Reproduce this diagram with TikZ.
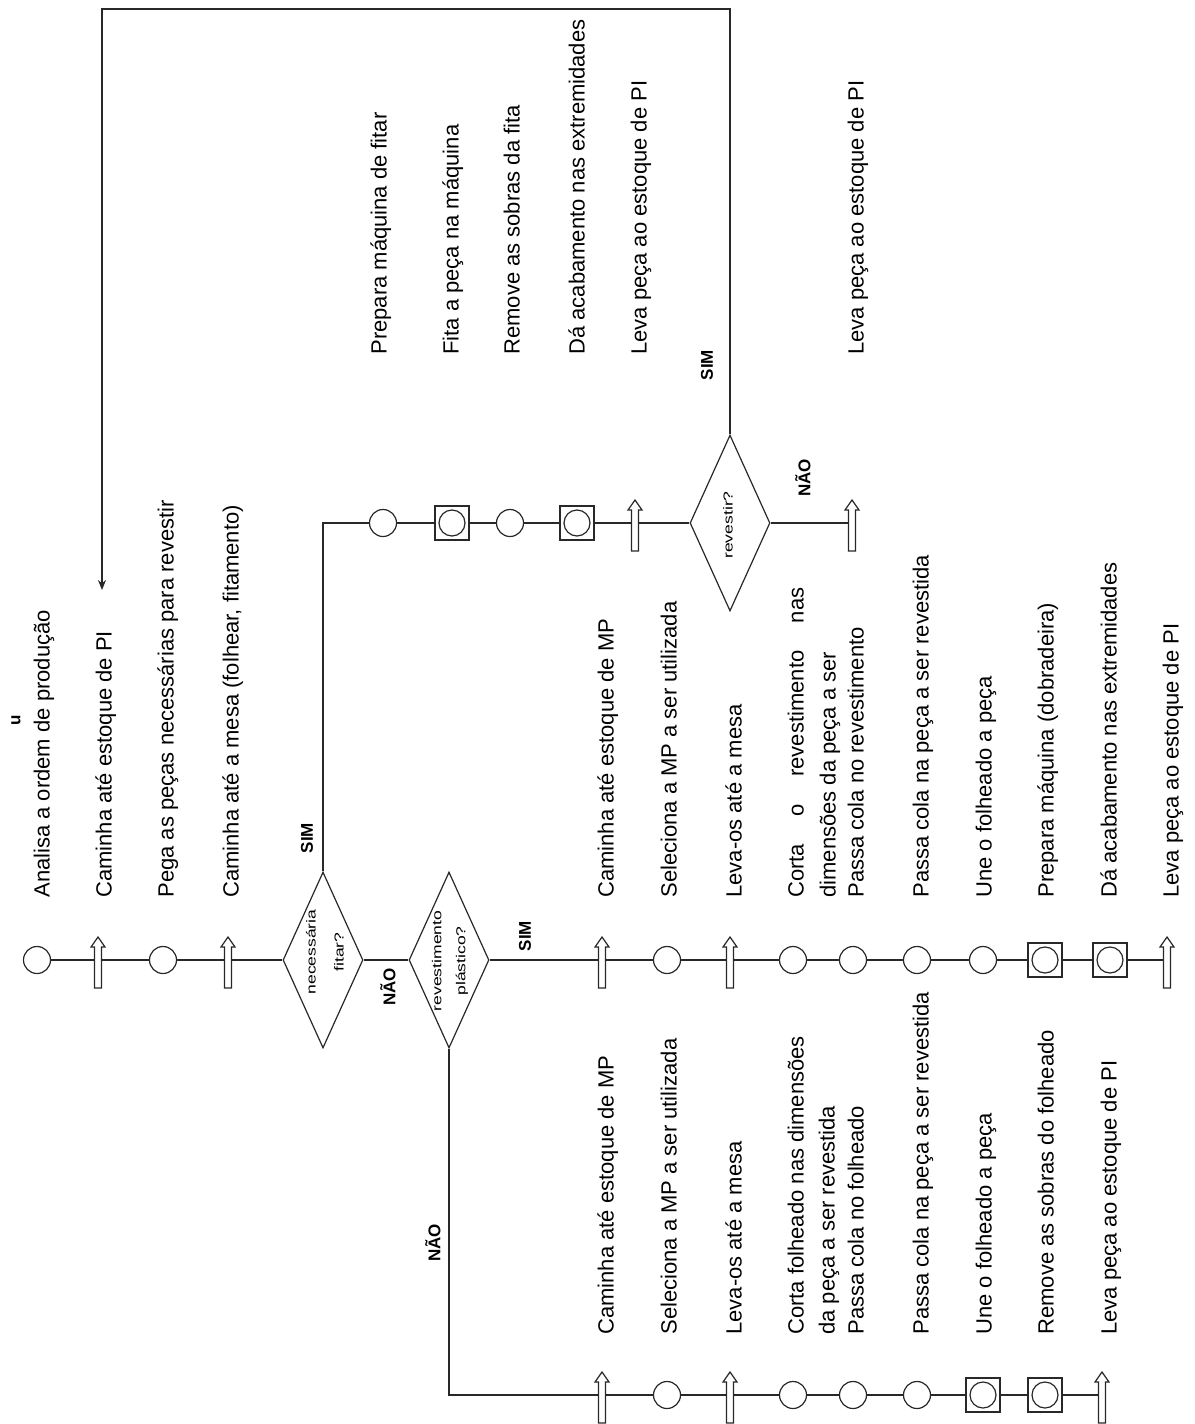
\documentclass[tikz,border=0pt]{standalone}
\usepackage{fontspec}
\setmainfont{Liberation Sans}
\usepackage{graphicx}
\usetikzlibrary{shapes.geometric,arrows.meta}
\definecolor{ink}{RGB}{40,40,40}
\newcommand\widetxt[1]{\scalebox{1.35}[1]{#1}}
\begin{document}
\begin{tikzpicture}[x=0.5pt,y=-0.5pt,
  op/.style={circle,draw=ink,line width=0.6pt,fill=white,minimum size=13.5pt,inner sep=0pt},
  opbox/.style={rectangle,draw=ink,line width=0.6pt,fill=white,minimum size=17pt,inner sep=0pt,
     path picture={\draw[ink,line width=0.6pt] (path picture bounding box.center) circle (6.5pt);}},
  mv/.style={rectangle,inner sep=0pt,minimum width=3.5pt,minimum height=5pt},
  dec/.style={diamond,draw=ink,line width=0.6pt,minimum width=40pt,minimum height=88pt,inner sep=0pt},
  txt/.style={rotate=90,anchor=west,inner sep=0pt,text height=9pt,text depth=2.5pt,
     font=\fontsize{11}{13}\selectfont},
  yn/.style={rotate=90,inner sep=0pt,font=\fontsize{8.5}{10}\selectfont\bfseries},
  dtxt/.style={rotate=90,inner sep=0pt,align=center},
  wire/.style={draw=ink,line width=0.6pt},
]
\useasboundingbox (0,0) rectangle (1194,1424);
\fill[white] (0,0) rectangle (1194,1424);

% main line
\node[op]  (s1) at (37,960) {};
\node[mv]  (s2) at (98,960) {};
\node[op]  (s3) at (163,960) {};
\node[mv]  (s4) at (228,960) {};
\node[dec] (d1) at (323,960) {};
\node[dec] (d2) at (449,960) {};
\node[mv]  (m1) at (602,960) {};
\node[op]  (m2) at (667,960) {};
\node[mv]  (m3) at (730,960) {};
\node[op]  (m4) at (793,960) {};
\node[op]  (m5) at (853,960) {};
\node[op]  (m6) at (917,960) {};
\node[op]  (m7) at (983,960) {};
\node[opbox] (m8) at (1045,960) {};
\node[opbox] (m9) at (1110,960) {};
\node[mv]  (m10) at (1167,960) {};

% taping branch
\node[op]    (t1) at (383,523) {};
\node[opbox] (t2) at (452,523) {};
\node[op]    (t3) at (510,523) {};
\node[opbox] (t4) at (577,523) {};
\node[mv]    (t5) at (635,523) {};
\node[dec]   (d3) at (730,523) {};
\node[mv]    (t6) at (852,523) {};

% veneer branch
\node[mv]    (b1) at (602,1395) {};
\node[op]    (b2) at (667,1395) {};
\node[mv]    (b3) at (730,1395) {};
\node[op]    (b4) at (793,1395) {};
\node[op]    (b5) at (853,1395) {};
\node[op]    (b6) at (917,1395) {};
\node[opbox] (b7) at (983,1395) {};
\node[opbox] (b8) at (1045,1395) {};
\node[mv]    (b9) at (1102,1395) {};

\coordinate (ret) at (102,590);

% connectors
\draw[wire] (s1) -- (s2) -- (s3) -- (s4) -- (d1.west);
\draw[wire] (d1.east) -- (d2.west);
\draw[wire] (d2.east) -- (m1) -- (m2) -- (m3) -- (m4) -- (m5) -- (m6) -- (m7) -- (m8) -- (m9) -- (m10);
\draw[wire] (d1.north) |- (t1);
\draw[wire] (t1) -- (t2) -- (t3) -- (t4) -- (t5) -- (d3.west);
\draw[wire] (d3.east) -- (t6);
\draw[wire] (d2.south) |- (b1);
\draw[wire] (b1) -- (b2) -- (b3) -- (b4) -- (b5) -- (b6) -- (b7) -- (b8) -- (b9);
\draw[wire,line width=0.8pt,-{Stealth[length=5pt,width=4pt]}] (d3.north) -- (730,9) -- (102,9) -- (ret);

% transport symbols
\foreach \n in {s2,s4,m1,m3,m10,t5,t6,b1,b3,b9}
  \draw[ink,line width=0.6pt,fill=white] (\n.center) ++(0,-23) -- ++(7,10) -- ++(-3.5,0)
     -- ++(0,41) -- ++(-7,0) -- ++(0,-41) -- ++(-3.5,0) -- cycle;

% decision texts
\node[dtxt,font=\fontsize{6.5}{14}\selectfont] (q1) at (325,952) {\widetxt{necessária}\\\widetxt{fitar?}};
\node[dtxt,font=\fontsize{6.5}{12}\selectfont] (q2) at (450,961) {\widetxt{revestimento}\\\widetxt{plástico?}};
\node[dtxt,font=\fontsize{6.5}{12}\selectfont] (q3) at (728,525) {\widetxt{revestir?}};

% answer labels
\node[yn] (y1) at (307,838) {SIM};
\node[yn] (n1) at (388,987) {NÃO};
\node[yn] (y2) at (525,936) {SIM};
\node[yn] (n2) at (433,1243) {NÃO};
\node[yn] (y3) at (707,365) {SIM};
\node[yn] (n3) at (803,478) {NÃO};
\node[yn] (mk) at (16,720) {u};

% activity texts, main line
\node[txt] (l1) at (43,898) {Analisa a ordem de produção};
\node[txt] (l2) at (105,898) {Caminha até estoque de PI};
\node[txt] (l3) at (167,898) {Pega as peças necessárias para revestir};
\node[txt] (l4) at (232,898) {Caminha até a mesa (folhear, fitamento)};
\node[txt] (l5) at (607,898) {Caminha até estoque de MP};
\node[txt] (l6) at (670,898) {Seleciona a MP a ser utilizada};
\node[txt] (l7) at (735,898) {Leva-os até a mesa};
\node[txt] (l8) at (797,898) {\makebox[155pt][s]{Corta o revestimento nas}};
\node[txt] (l9) at (829,898) {dimensões da peça a ser};
\node[txt] (l10) at (857,898) {Passa cola no revestimento};
\node[txt] (l11) at (922,898) {Passa cola na peça a ser revestida};
\node[txt] (l12) at (985,898) {Une o folheado a peça};
\node[txt] (l13) at (1047,898) {Prepara máquina (dobradeira)};
\node[txt] (l14) at (1110,898) {Dá acabamento nas extremidades};
\node[txt] (l15) at (1172,898) {Leva peça ao estoque de PI};

% activity texts, taping branch
\node[txt] (f1) at (380,355) {Prepara máquina de fitar};
\node[txt] (f2) at (452,355) {Fita a peça na máquina};
\node[txt] (f3) at (513,355) {Remove as sobras da fita};
\node[txt] (f4) at (578,355) {Dá acabamento nas extremidades};
\node[txt] (f5) at (640,355) {Leva peça ao estoque de PI};
\node[txt] (f6) at (857,355) {Leva peça ao estoque de PI};

% activity texts, veneer branch
\node[txt] (v1) at (607,1335) {Caminha até estoque de MP};
\node[txt] (v2) at (670,1335) {Seleciona a MP a ser utilizada};
\node[txt] (v3) at (735,1335) {Leva-os até a mesa};
\node[txt] (v4) at (797,1335) {Corta folheado nas dimensões};
\node[txt] (v5) at (828,1335) {da peça a ser revestida};
\node[txt] (v6) at (857,1335) {Passa cola no folheado};
\node[txt] (v7) at (922,1335) {Passa cola na peça a ser revestida};
\node[txt] (v8) at (985,1335) {Une o folheado a peça};
\node[txt] (v9) at (1047,1335) {Remove as sobras do folheado};
\node[txt] (v10) at (1110,1335) {Leva peça ao estoque de PI};
\end{tikzpicture}
\end{document}
